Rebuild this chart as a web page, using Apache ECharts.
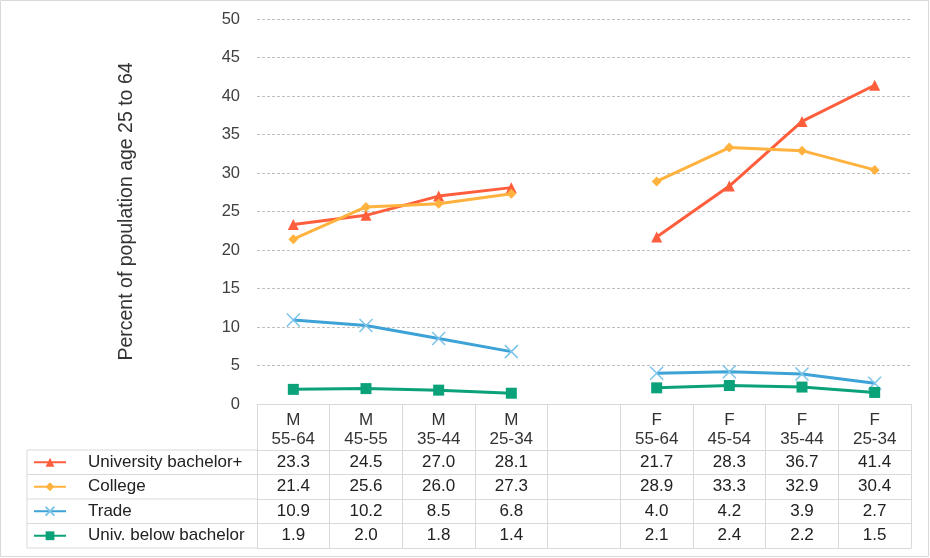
<!DOCTYPE html>
<html><head><meta charset="utf-8">
<script src="https://cdn.jsdelivr.net/npm/echarts@6/dist/echarts.min.js"></script>
<style>html,body{margin:0;padding:0;background:#fff}#c{width:930px;height:558px}</style>
</head><body><div id="c"></div>
<script>
const categories = ['M\n55-64','M\n45-55','M\n35-44','M\n25-34','','F\n55-64','F\n45-54','F\n35-44','F\n25-34'];
const seriesNames = ['University bachelor+','College','Trade','Univ. below bachelor'];
const univBachelor = [23.3,24.5,27.0,28.1,null,21.7,28.3,36.7,41.4];
const college = [21.4,25.6,26.0,27.3,null,28.9,33.3,32.9,30.4];
const trade = [10.9,10.2,8.5,6.8,null,4.0,4.2,3.9,2.7];
const univBelow = [1.9,2.0,1.8,1.4,null,2.1,2.4,2.2,1.5];
const yTicks = {min:0, max:50, interval:5};
const yName = 'Percent of population age 25 to 64';

const FONT = "'Liberation Sans', Arial, sans-serif";
const colors = ['#FF5E3C','#FFB23E','#3DA3D6','#0BA27A'];
const W = 930, H = 558;
const gridLeft = 257, gridRight = 19, gridTop = 19, gridBottom = 154;
const axisY = H - gridBottom; // 404
const headerH = 46, rowH = 24.5, tableLeft = 27;
const borderCol = '#d9d9d9';
const allData = [univBachelor, college, trade, univBelow];

const fmt = v => (v === null ? '' : v.toFixed(1));

const xAxes = [{
  type:'category', data: categories, position:'bottom', gridIndex:0,
  axisLine:{show:true, lineStyle:{color:borderCol, width:1}},
  axisTick:{show:true, length:headerH, lineStyle:{color:borderCol}},
  axisLabel:{interval:0, margin:7, fontFamily:FONT, fontSize:17, lineHeight:19, color:'#333'},
  splitLine:{show:false}
}];
allData.forEach((arr, i) => {
  xAxes.push({
    type:'category', data: arr.map(fmt), position:'bottom', gridIndex:0,
    offset: headerH + i*rowH,
    axisLine:{show:true, lineStyle:{color:borderCol, width:1}},
    axisTick:{show:true, length:rowH, lineStyle:{color:borderCol}},
    axisLabel:{interval:0, margin:0, fontFamily:FONT, fontSize:17, lineHeight:rowH, color:'#222'},
    splitLine:{show:false}
  });
});
xAxes.push({
  type:'category', data: categories.map(()=>''), position:'bottom', gridIndex:0,
  offset: headerH + 4*rowH,
  axisLine:{show:true, lineStyle:{color:borderCol, width:1}},
  axisTick:{show:false}, axisLabel:{show:false}, splitLine:{show:false}
});

const crossPath = 'path://M0,0L10,10M10,0L0,10';
const symbols = ['triangle','diamond', crossPath, 'rect'];
const symbolSizes = [11, 10, 13, 11];

const series = allData.map((arr, i) => ({
  name: seriesNames[i], type:'line', xAxisIndex:0, yAxisIndex:0,
  data: arr, connectNulls:false,
  symbol: symbols[i], symbolSize: symbolSizes[i], showSymbol:true,
  lineStyle:{color:colors[i], width:3},
  itemStyle: i === 2 ? {color:'rgba(0,0,0,0)', borderColor:'#7cc3ea', borderWidth:1.5, opacity:1}
                     : {color:colors[i], borderWidth:0},
  emphasis:{disabled:true},
  animation:false
}));

const graphic = [];
graphic.push({type:'rect', shape:{x:0.5, y:0.5, width:W-2, height:H-2}, style:{fill:'none', stroke:borderCol, lineWidth:1}, silent:true});
for (let k = 0; k <= 4; k++) {
  const y = axisY + headerH + k*rowH;
  graphic.push({type:'line', shape:{x1:tableLeft, y1:y, x2:gridLeft, y2:y}, style:{stroke:borderCol, lineWidth:1}, silent:true});
}
graphic.push({type:'line', shape:{x1:tableLeft, y1:axisY+headerH, x2:tableLeft, y2:axisY+headerH+4*rowH}, style:{stroke:borderCol, lineWidth:1}, silent:true});

const legendTextH = 18;
const option = {
  backgroundColor:'#fff',
  animation:false,
  textStyle:{fontFamily:FONT},
  grid:{left:gridLeft, right:gridRight, top:gridTop, bottom:gridBottom, containLabel:false},
  legend:{
    orient:'vertical', left:tableLeft+6, top: axisY + headerH + rowH/2 - legendTextH/2, padding:0,
    itemWidth:32, itemHeight:11, itemGap: rowH - legendTextH,
    data: seriesNames,
    textStyle:{fontFamily:FONT, fontSize:17, color:'#222', lineHeight:legendTextH, padding:[0,0,0,17]},
    selectedMode:false
  },
  xAxis: xAxes,
  yAxis:{
    type:'value', min:yTicks.min, max:yTicks.max, interval:yTicks.interval,
    name: yName, nameLocation:'middle', nameGap:120,
    nameTextStyle:{fontFamily:FONT, fontSize:19.5, color:'#333'},
    axisLine:{show:false}, axisTick:{show:false},
    axisLabel:{margin:17, fontFamily:FONT, fontSize:16.5, color:'#404040'},
    splitLine:{show:true, lineStyle:{color:'#bfbfbf', type:[3,2], width:1}}
  },
  series: series,
  graphic: graphic
};
const chart = echarts.init(document.getElementById('c'), null, {renderer:'canvas'});
chart.setOption(option);
</script></body></html>
